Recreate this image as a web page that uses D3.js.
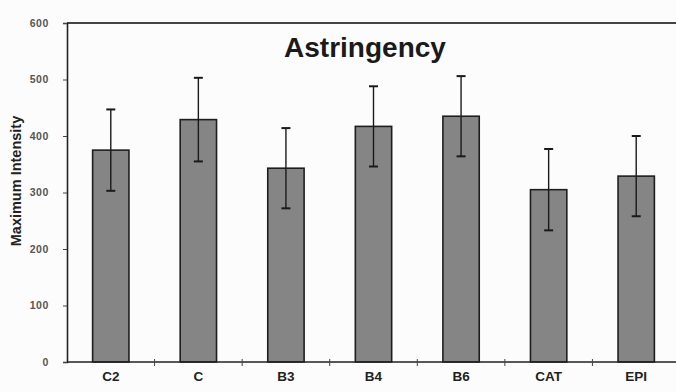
<!DOCTYPE html>
<html>
<head>
<meta charset="utf-8">
<script src="https://cdn.jsdelivr.net/npm/d3@7"></script>
<style>
  html, body { margin: 0; padding: 0; background: #fcfcfc; }
  svg { display: block; }
  text { font-family: "Liberation Sans", Arial, sans-serif; }
</style>
</head>
<body>
<svg id="chart" width="676" height="392"></svg>
<script>
// Astringency: maximum intensity per compound, mean with error bar
const categories = ["C2", "C", "B3", "B4", "B6", "CAT", "EPI"];
const means = [375, 429, 343, 417, 435, 305, 329];
const errors = [72, 74, 71, 71, 71, 72, 71];
const yTicks = [0, 100, 200, 300, 400, 500, 600];

const svg = d3.select("#chart");
const plotLeft = 67, plotRight = 680, plotTop = 23, plotBottom = 362;

const x = d3.scaleBand()
  .domain(categories)
  .range([plotLeft, plotRight])
  .paddingInner(0.585)
  .paddingOuter(0.2925);

const y = d3.scaleLinear().domain([0, 600]).range([plotBottom, plotTop]);

// frame: top rule
svg.append("line")
  .attr("x1", plotLeft).attr("x2", 676)
  .attr("y1", y(600)).attr("y2", y(600))
  .attr("stroke", "#444").attr("stroke-width", 2.2);

// bars
svg.append("g").selectAll("rect")
  .data(categories)
  .join("rect")
  .attr("x", d => x(d))
  .attr("y", (d, i) => y(means[i]))
  .attr("width", x.bandwidth())
  .attr("height", (d, i) => y(0) - y(means[i]))
  .attr("fill", "#858585")
  .attr("stroke", "#1e1e1e")
  .attr("stroke-width", 1.6);

// error bars
const eb = svg.append("g").attr("stroke", "#1a1a1a");
categories.forEach((c, i) => {
  const cx = x(c) + x.bandwidth() / 2;
  const hi = y(means[i] + errors[i]);
  const lo = y(means[i] - errors[i]);
  eb.append("line").attr("x1", cx).attr("x2", cx).attr("y1", hi).attr("y2", lo)
    .attr("stroke-width", 1.4);
  [hi, lo].forEach(v => {
    eb.append("line").attr("x1", cx - 4.5).attr("x2", cx + 4.5)
      .attr("y1", v).attr("y2", v).attr("stroke-width", 2);
  });
});

// y axis
const yAxis = svg.append("g")
  .attr("transform", `translate(${plotLeft},0)`)
  .call(d3.axisLeft(y).tickValues(yTicks).tickSize(4).tickPadding(14));
yAxis.select(".domain").attr("stroke", "#222").attr("stroke-width", 1.6);
yAxis.selectAll(".tick line").attr("stroke", "#444");
yAxis.selectAll(".tick text")
  .attr("font-size", 10.5).attr("font-weight", "bold").attr("fill", "#555")
  .attr("letter-spacing", "0.6px")
  .attr("font-family", "Liberation Sans, Arial, sans-serif");

// x axis: rule with ticks at category boundaries
const step = x.step();
const gap = step * x.paddingInner() / 2;
svg.append("line")
  .attr("x1", plotLeft).attr("x2", 676)
  .attr("y1", y(0)).attr("y2", y(0))
  .attr("stroke", "#222").attr("stroke-width", 1.6);
svg.append("g").selectAll("line")
  .data(categories.slice(1))
  .join("line")
  .attr("x1", d => x(d) - gap).attr("x2", d => x(d) - gap)
  .attr("y1", y(0) - 3).attr("y2", y(0) + 4)
  .attr("stroke", "#444").attr("stroke-width", 1);

svg.append("g").selectAll("text")
  .data(categories)
  .join("text")
  .attr("x", d => x(d) + x.bandwidth() / 2)
  .attr("y", 381)
  .attr("text-anchor", "middle")
  .attr("font-size", 13.5).attr("font-weight", "bold").attr("fill", "#222")
  .text(d => d);

// y title
svg.append("text")
  .attr("transform", "translate(21,181) rotate(-90)")
  .attr("text-anchor", "middle")
  .attr("font-size", 14.5).attr("font-weight", "bold").attr("fill", "#222")
  .text("Maximum Intensity");

// title
svg.append("text")
  .attr("x", 365).attr("y", 57)
  .attr("text-anchor", "middle")
  .attr("font-size", 28).attr("font-weight", "bold").attr("fill", "#1a1a1a")
  .text("Astringency");
</script>
</body>
</html>
